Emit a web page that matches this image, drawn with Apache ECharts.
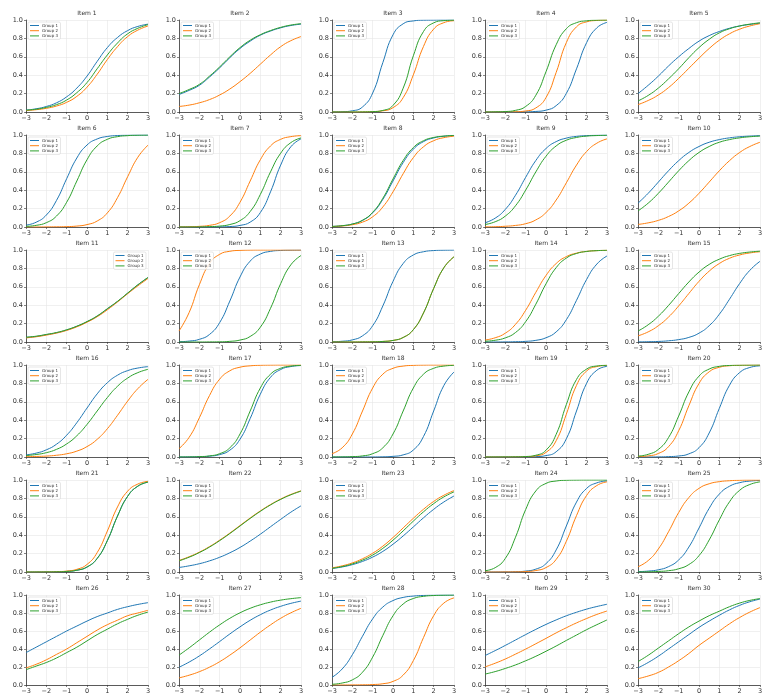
<!DOCTYPE html>
<html>
<head>
<meta charset="utf-8">
<script src="https://cdn.jsdelivr.net/npm/echarts@6/dist/echarts.min.js"></script>
<style>
html,body{margin:0;padding:0;background:#fff;}
#chart{width:769px;height:695px;}
</style>
</head>
<body>
<div id="chart"></div>
<script>
// ability grid (theta) at which each curve was read
const thetaGrid = [-3,-2.5,-2,-1.5,-1,-0.5,0,0.5,1,1.5,2,2.5,3];
const itemTitles = ['Item 1','Item 2','Item 3','Item 4','Item 5','Item 6','Item 7','Item 8','Item 9','Item 10',
  'Item 11','Item 12','Item 13','Item 14','Item 15','Item 16','Item 17','Item 18','Item 19','Item 20',
  'Item 21','Item 22','Item 23','Item 24','Item 25','Item 26','Item 27','Item 28','Item 29','Item 30'];
const groupNames = ['Group 1','Group 2','Group 3'];
const xTicks = [-3,-2,-1,0,1,2,3];
const yTicks = [0,0.2,0.4,0.6,0.8,1.0];

// Group 1 (blue) probabilities, one list per item
const group1Curves = [
  [.02,.035,.06,.10,.165,.26,.39,.55,.70,.81,.885,.93,.955],
  [.19,.235,.29,.38,.48,.59,.69,.77,.835,.88,.915,.94,.955],
  [.001,.003,.013,.055,.206,.537,.839,.959,.990,.998,.999,1,1],
  [0,0,0,.0005,.002,.006,.020,.069,.202,.469,.755,.915,.974],
  [.20,.29,.39,.50,.60,.69,.77,.83,.875,.91,.935,.952,.965],
  [.020,.052,.130,.289,.525,.750,.891,.957,.984,.994,.998,.999,1],
  [0,0,0,0,.0015,.005,.017,.053,.157,.382,.673,.872,.958],
  [.006,.014,.032,.072,.154,.300,.5,.700,.846,.928,.968,.986,.994],
  [.046,.096,.192,.345,.540,.723,.853,.928,.966,.985,.993,.997,.999],
  [.259,.366,.488,.611,.721,.810,.875,.921,.950,.969,.981,.988,.993],
  [.05,.06,.08,.10,.13,.17,.22,.28,.36,.44,.53,.62,.70],
  [.003,.010,.029,.082,.211,.445,.707,.879,.956,.985,.995,.998,.999],
  [.003,.008,.023,.067,.177,.392,.659,.853,.946,.981,.994,.998,.999],
  [0,0,.001,.003,.007,.018,.046,.110,.242,.453,.681,.847,.935],
  [.0015,.003,.006,.013,.026,.050,.096,.177,.302,.465,.636,.779,.877],
  [.023,.042,.078,.139,.237,.373,.532,.686,.807,.889,.939,.967,.982],
  [.0003,.001,.003,.009,.026,.074,.193,.418,.683,.866,.951,.983,.994],
  [0,0,0,0,.0005,.002,.007,.023,.076,.223,.5,.777,.924],
  [0,0,0,0,.001,.004,.015,.057,.198,.5,.802,.943,.985],
  [0,0,.001,.004,.011,.034,.101,.261,.529,.780,.918,.973,.991],
  [0,0,.0006,.002,.006,.019,.054,.147,.341,.608,.823,.933,.977],
  [.049,.067,.090,.121,.160,.209,.267,.336,.411,.492,.572,.650,.719],
  [.038,.055,.080,.115,.162,.224,.302,.392,.490,.589,.681,.761,.826],
  [0,0,.001,.003,.010,.031,.091,.240,.5,.760,.909,.969,.990],
  [.004,.010,.024,.058,.131,.271,.478,.692,.847,.932,.971,.988,.995],
  [.36,.42,.48,.54,.60,.655,.71,.76,.80,.84,.87,.895,.915],
  [.197,.255,.323,.401,.483,.567,.646,.719,.781,.833,.874,.907,.932],
  [.085,.178,.336,.542,.735,.866,.938,.973,.988,.995,.998,.999,1],
  [.327,.382,.440,.5,.560,.618,.673,.723,.769,.808,.843,.872,.897],
  [.19,.25,.32,.40,.48,.56,.64,.71,.775,.835,.885,.925,.955]
];
// Group 2 (orange)
const group2Curves = [
  [.015,.025,.04,.065,.105,.17,.27,.41,.57,.71,.82,.89,.935],
  [.06,.075,.10,.135,.185,.25,.33,.42,.52,.62,.71,.775,.82],
  [0,0,0,.001,.004,.013,.047,.156,.404,.713,.901,.971,.992],
  [0,0,.001,.003,.011,.044,.157,.430,.754,.926,.980,.995,.999],
  [.08,.125,.185,.265,.365,.475,.585,.69,.78,.85,.90,.935,.96],
  [0,0,.001,.002,.004,.010,.026,.065,.153,.319,.547,.758,.890],
  [.001,.0025,.007,.018,.047,.119,.269,.5,.731,.881,.953,.982,.993],
  [.005,.011,.025,.053,.111,.218,.382,.579,.754,.872,.938,.971,.987],
  [.0015,.003,.008,.017,.036,.077,.157,.293,.480,.673,.821,.911,.958],
  [.028,.045,.072,.114,.175,.259,.366,.488,.611,.721,.810,.875,.921],
  [.045,.057,.075,.097,.126,.165,.215,.275,.35,.435,.525,.61,.69],
  [.119,.321,.622,.852,.953,.986,.996,.999,1,1,1,1,1],
  [0,0,0,.001,.002,.006,.017,.049,.134,.316,.582,.807,.926],
  [.021,.046,.096,.192,.345,.540,.723,.853,.928,.966,.985,.993,.997],
  [.067,.110,.177,.271,.392,.527,.659,.770,.853,.910,.946,.968,.981],
  [.003,.006,.010,.019,.035,.064,.113,.192,.307,.453,.608,.743,.844],
  [.091,.214,.426,.668,.846,.937,.976,.991,.997,.999,1,1,1],
  [.036,.100,.250,.5,.750,.900,.964,.988,.996,.999,1,1,1],
  [0,0,0,.001,.003,.013,.050,.177,.465,.779,.935,.983,.996],
  [.004,.012,.038,.112,.285,.557,.799,.926,.975,.992,.997,.999,1],
  [0,0,.001,.003,.010,.029,.082,.211,.445,.707,.879,.956,.985],
  [.125,.166,.216,.276,.346,.423,.505,.587,.664,.733,.793,.843,.882],
  [.045,.067,.099,.144,.204,.281,.375,.479,.584,.682,.767,.834,.885],
  [0,0,.001,.002,.005,.016,.048,.137,.334,.613,.833,.940,.980],
  [.057,.124,.250,.437,.646,.809,.909,.959,.982,.992,.997,.999,.999],
  [.19,.23,.28,.34,.40,.47,.54,.61,.67,.72,.77,.80,.83],
  [.079,.109,.148,.198,.259,.332,.413,.5,.587,.668,.741,.802,.852],
  [0,0,.001,.002,.005,.014,.040,.110,.271,.527,.770,.910,.968],
  [.201,.242,.289,.343,.399,.458,.518,.579,.636,.690,.739,.784,.822],
  [.07,.10,.14,.20,.27,.35,.44,.52,.60,.68,.75,.81,.86]
];
// Group 3 (green)
const group3Curves = [
  [.02,.03,.05,.08,.13,.21,.32,.47,.62,.75,.85,.91,.95],
  [.20,.245,.30,.39,.49,.60,.70,.78,.84,.885,.92,.945,.96],
  [0,0,0,.001,.004,.017,.072,.259,.611,.875,.969,.993,.998],
  [0,.0015,.005,.018,.060,.182,.438,.731,.905,.971,.991,.998,.999],
  [.12,.18,.26,.36,.47,.59,.70,.79,.86,.905,.935,.955,.97],
  [.007,.018,.047,.119,.269,.5,.731,.881,.953,.982,.993,.998,.999],
  [0,0,.001,.004,.010,.027,.069,.168,.354,.599,.802,.917,.968],
  [.006,.014,.032,.073,.160,.312,.522,.723,.863,.938,.973,.988,.995],
  [.027,.057,.119,.231,.401,.599,.769,.881,.943,.973,.988,.994,.997],
  [.175,.259,.366,.488,.611,.721,.810,.875,.921,.950,.969,.981,.988],
  [.052,.063,.082,.103,.133,.172,.222,.283,.362,.442,.532,.622,.702],
  [0,0,0,.001,.002,.007,.021,.060,.161,.366,.634,.839,.940],
  [0,0,0,.001,.002,.006,.017,.049,.134,.316,.582,.807,.926],
  [.008,.019,.045,.103,.221,.411,.632,.808,.912,.962,.984,.993,.997],
  [.119,.187,.280,.397,.526,.652,.760,.843,.900,.939,.963,.978,.987],
  [.015,.027,.047,.083,.142,.231,.354,.5,.646,.769,.858,.917,.953],
  [.0005,.001,.004,.012,.036,.100,.250,.5,.750,.900,.964,.988,.996],
  [.0005,.001,.004,.012,.036,.100,.250,.5,.750,.900,.964,.988,.996],
  [0,0,.0007,.0015,.005,.019,.074,.246,.570,.843,.956,.989,.997],
  [.010,.029,.082,.211,.445,.707,.879,.956,.985,.995,.998,.999,1],
  [0,0,.0006,.002,.006,.019,.054,.147,.341,.608,.823,.933,.977],
  [.121,.161,.211,.271,.341,.418,.5,.582,.659,.729,.789,.839,.879],
  [.040,.059,.088,.129,.184,.257,.346,.447,.553,.654,.743,.816,.871],
  [.014,.047,.148,.378,.679,.881,.963,.989,.997,.999,1,1,1],
  [.001,.002,.006,.014,.035,.081,.178,.348,.567,.763,.888,.951,.980],
  [.17,.21,.25,.30,.36,.42,.49,.56,.62,.68,.73,.775,.81],
  [.332,.413,.5,.587,.668,.741,.802,.852,.891,.921,.943,.959,.971],
  [.008,.022,.057,.142,.310,.550,.769,.900,.961,.985,.994,.998,.999],
  [.121,.149,.184,.223,.269,.319,.375,.433,.495,.555,.615,.670,.723],
  [.26,.33,.41,.49,.57,.645,.71,.77,.82,.87,.91,.94,.96]
];
const legendOnRight = [10]; // index of Item 11

const colors = ['#1f77b4','#ff7f0e','#2ca02c'];
const FONT = 'DejaVu Sans';
const COLS = 5, LEFT0 = 26, COLSTEP = 153, GW = 122, TOP0 = 20, ROWSTEP = 115, GH = 92;

const chart = echarts.init(document.getElementById('chart'), null, {renderer:'canvas'});
const grids = [], xAxes = [], yAxes = [], series = [], legends = [], graphics = [];
const allCurves = [group1Curves, group2Curves, group3Curves];

itemTitles.forEach((title, i) => {
  const c = i % COLS, r = Math.floor(i / COLS);
  const left = LEFT0 + c * COLSTEP, top = TOP0 + r * ROWSTEP;
  grids.push({left: left, top: top, width: GW, height: GH, containLabel: false});
  xAxes.push({
    gridIndex: i, type: 'value', min: xTicks[0], max: xTicks[xTicks.length-1], interval: 1,
    axisLine: {show: true, onZero: false, lineStyle: {color: '#333', width: 0.8}},
    axisTick: {show: true, length: 2, lineStyle: {color: '#333', width: 0.6}},
    axisLabel: {fontSize: 6.5, color: '#333', margin: 3, fontFamily: FONT,
      formatter: v => String(v).replace('-', '\u2212')},
    splitLine: {show: true, lineStyle: {color: '#e6e6e6', width: 0.6}}
  });
  yAxes.push({
    gridIndex: i, type: 'value', min: yTicks[0], max: yTicks[yTicks.length-1], interval: 0.2,
    axisLine: {show: true, onZero: false, lineStyle: {color: '#333', width: 0.8}},
    axisTick: {show: true, length: 2, lineStyle: {color: '#333', width: 0.6}},
    axisLabel: {fontSize: 6.5, color: '#333', margin: 3, fontFamily: FONT,
      formatter: v => v.toFixed(1)},
    splitLine: {show: true, lineStyle: {color: '#e6e6e6', width: 0.6}}
  });
  allCurves.forEach((curves, g) => {
    series.push({
      name: groupNames[g], type: 'line', xAxisIndex: i, yAxisIndex: i,
      data: thetaGrid.map((x, k) => [x, curves[i][k]]),
      smooth: 0.5, symbol: 'none', silent: true,
      lineStyle: {color: colors[g], width: 1}, itemStyle: {color: colors[g]},
      z: 2 + g
    });
  });
  const onRight = legendOnRight.includes(i);
  const lg = {
    data: groupNames, orient: 'vertical', top: top + 2,
    icon: 'rect', itemWidth: 9, itemHeight: 1, itemGap: 1.2,
    textStyle: {fontSize: 4, color: '#333', fontFamily: FONT, padding: [0,0,0,-2]},
    backgroundColor: 'rgba(255,255,255,0.85)', borderColor: '#cccccc', borderWidth: 0.5,
    borderRadius: 1.5, padding: [1.5, 2.5, 1.5, 2], selectedMode: false
  };
  if (onRight) lg.right = 769 - (left + GW) + 2; else lg.left = left + 2;
  legends.push(lg);
  graphics.push({
    type: 'text', x: left + GW / 2, y: top - 7,
    style: {text: title, fontSize: 6, fill: '#333', fontFamily: FONT, textAlign: 'center', textVerticalAlign: 'middle'}
  });
});

chart.setOption({
  animation: false,
  backgroundColor: '#ffffff',
  textStyle: {fontFamily: FONT},
  grid: grids, xAxis: xAxes, yAxis: yAxes, series: series, legend: legends,
  graphic: graphics
});
</script>
</body>
</html>
